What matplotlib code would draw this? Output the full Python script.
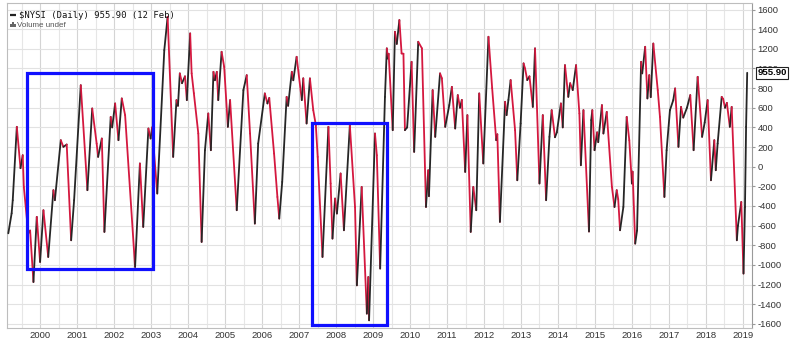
import numpy as np
import matplotlib
matplotlib.use("Agg")
import matplotlib.pyplot as plt
from matplotlib.collections import LineCollection
from matplotlib.patches import Rectangle

plt.rcParams["axes.unicode_minus"] = False

# %% data (turning points of $NYSI) -------------------------------------------
years = [
    1999.13, 1999.22, 1999.25, 1999.36, 1999.46, 1999.52, 1999.55, 1999.67, 1999.72, 1999.81,
    1999.90, 1999.99, 2000.08, 2000.21, 2000.35, 2000.39, 2000.55, 2000.62, 2000.71, 2000.83,
    2000.91, 2001.09, 2001.27, 2001.40, 2001.52, 2001.56, 2001.66, 2001.73, 2001.90, 2001.94,
    2002.02, 2002.11, 2002.20, 2002.29, 2002.56, 2002.69, 2002.78, 2002.92, 2002.98, 2003.02,
    2003.16, 2003.35, 2003.44, 2003.59, 2003.68, 2003.72, 2003.77, 2003.83, 2003.91, 2003.96,
    2004.05, 2004.09, 2004.15, 2004.27, 2004.36, 2004.45, 2004.54, 2004.61, 2004.68, 2004.72,
    2004.77, 2004.81, 2004.90, 2004.97, 2005.07, 2005.13, 2005.31, 2005.49, 2005.58, 2005.67,
    2005.80, 2005.89, 2006.07, 2006.14, 2006.19, 2006.32, 2006.41, 2006.46, 2006.54, 2006.66,
    2006.70, 2006.80, 2006.84, 2006.93, 2007.07, 2007.11, 2007.20, 2007.29, 2007.38, 2007.45,
    2007.50, 2007.63, 2007.79, 2007.85, 2007.90, 2007.97, 2008.02, 2008.12, 2008.21, 2008.37,
    2008.51, 2008.56, 2008.69, 2008.83, 2008.87, 2008.89, 2009.05, 2009.10, 2009.19, 2009.32,
    2009.37, 2009.40, 2009.42, 2009.53, 2009.59, 2009.64, 2009.71, 2009.77, 2009.82, 2009.86,
    2009.92, 2010.04, 2010.11, 2010.22, 2010.32, 2010.43, 2010.49, 2010.51, 2010.61, 2010.68,
    2010.81, 2010.86, 2010.95, 2011.06, 2011.13, 2011.22, 2011.29, 2011.35, 2011.40, 2011.49,
    2011.55, 2011.64, 2011.71, 2011.79, 2011.87, 2011.98, 2012.12, 2012.22, 2012.33, 2012.36,
    2012.43, 2012.57, 2012.61, 2012.66, 2012.72, 2012.84, 2012.90, 2012.99, 2013.07, 2013.11,
    2013.17, 2013.23, 2013.32, 2013.38, 2013.50, 2013.59, 2013.68, 2013.77, 2013.83, 2013.92,
    2013.97, 2014.08, 2014.13, 2014.19, 2014.28, 2014.33, 2014.40, 2014.49, 2014.58, 2014.62,
    2014.69, 2014.84, 2014.90, 2014.93, 2014.99, 2015.06, 2015.09, 2015.19, 2015.23, 2015.32,
    2015.46, 2015.53, 2015.59, 2015.63, 2015.68, 2015.77, 2015.86, 2015.93, 2016.00, 2016.02,
    2016.09, 2016.14, 2016.25, 2016.28, 2016.36, 2016.42, 2016.47, 2016.51, 2016.58, 2016.70,
    2016.76, 2016.88, 2016.94, 2017.03, 2017.12, 2017.17, 2017.26, 2017.33, 2017.39, 2017.49,
    2017.58, 2017.67, 2017.78, 2017.90, 2017.97, 2018.05, 2018.14, 2018.23, 2018.27, 2018.32,
    2018.43, 2018.47, 2018.52, 2018.57, 2018.65, 2018.70, 2018.84, 2018.87, 2018.96, 2019.02,
    2019.06, 2019.09, 2019.12,
]
nysi = [
    -678, -474, -341, 406, -15, 117, -206, -681, -650, -1174,
    -511, -970, -443, -919, -239, -341, 270, 202, 226, -749,
    -341, 830, -239, 593, 236, 100, 287, -664, 507, 400,
    644, 270, 695, 525, -1021, 33, -613, 389, 287, 400,
    -273, 1187, 1526, 100, 678, 620, 950, 850, 920, 678,
    1357, 950, 748, 338, -766, 168, 542, 168, 966, 880,
    966, 678, 1170, 1017, 406, 678, -443, 780, 932, 338,
    -579, 236, 746, 644, 700, 134, -308, -528, -155, 711,
    620, 966, 880, 1119, 678, 900, 440, 899, 576, 423,
    100, -919, 406, -171, -732, -324, -477, -69, -647, 423,
    -410, -1208, -206, -1496, -1123, -1564, 338, 117, -1037, 711,
    1205, 1100, 1150, 372, 1374, 1250, 1493, 1153, 1150, 372,
    400, 1068, 151, 1272, 1205, -410, -36, -300, 780, 304,
    950, 900, 406, 627, 813, 389, 729, 600, 680, -53,
    525, -664, -206, -443, 746, 33, 1323, 800, 270, 330,
    -562, 661, 525, 680, 882, 372, -138, 440, 1052, 1000,
    882, 920, 609, 1205, -171, 525, -341, 304, 576, 300,
    350, 644, 400, 1034, 711, 850, 780, 1034, 542, 15,
    576, -660, 474, 576, 168, 350, 250, 627, 338, 558,
    -206, -410, -239, -330, -647, -410, 507, 270, -171, -50,
    -783, -650, 1068, 950, 1221, 695, 932, 708, 1254, 780,
    507, -308, 168, 576, 678, 797, 202, 609, 500, 600,
    729, 168, 915, 304, 450, 678, -138, 270, -36, 236,
    711, 690, 600, 650, 406, 609, -749, -600, -359, -1088,
    -410, 406, 955.90,
]
last_value = 955.90

# highlighted boxes: (x0, x1, y0, y1)
box_2000 = (1999.63, 2003.05, -1037, 950)
box_2008 = (2007.34, 2009.37, -1615, 446)

year_ticks = list(range(2000, 2020))
value_ticks = list(range(-1600, 1601, 200))

# %% figure ------------------------------------------------------------------
fig = plt.figure(figsize=(8.0, 3.41), dpi=100)
ax = fig.add_axes([0.009, 0.037, 0.931, 0.954])

ax.set_xlim(1999.10, 2019.25)
ax.set_ylim(-1646, 1666)

# grid
ax.set_xticks(year_ticks)
ax.set_xticks([y + 0.5 for y in range(1999, 2019)], minor=True)
ax.set_yticks(value_ticks)
ax.grid(which="major", axis="x", color="#d4d4d4", lw=0.8)
ax.grid(which="minor", axis="x", color="#e6e6e6", lw=0.8)
ax.grid(which="major", axis="y", color="#e2e2e2", lw=0.8)
ax.set_axisbelow(True)

# line: black while rising, red while falling
pts = np.column_stack([years, nysi])
segs = np.stack([pts[:-1], pts[1:]], axis=1)
rising = np.diff(np.array(nysi)) >= 0
colors = np.where(rising, "#262626", "#d4183f")
lc = LineCollection(segs, colors=colors, linewidths=1.3, capstyle="round",
                    joinstyle="round", zorder=3)
ax.add_collection(lc)

# blue boxes
for x0, x1, y0, y1 in (box_2000, box_2008):
    ax.add_patch(Rectangle((x0, y0), x1 - x0, y1 - y0, fill=False,
                           edgecolor="#1010ff", lw=2.3, zorder=4))

# axes styling
ax.yaxis.tick_right()
ax.tick_params(axis="y", which="major", length=2.5, width=0.8, color="#999999",
               labelsize=6.8, labelcolor="#333333", pad=1.5)
ax.tick_params(axis="x", which="both", length=0, labelsize=6.8,
               labelcolor="#333333", pad=2)
for lab in ax.get_xticklabels() + ax.get_yticklabels():
    lab.set_fontfamily("Liberation Sans")
for s in ax.spines.values():
    s.set_color("#bdbdbd")
    s.set_linewidth(0.8)
ax.spines["right"].set_color("#9a9a9a")

# last value tag (sits on top of the 1000 label, as in the source chart)
ax.annotate(f"{last_value:.2f}", xy=(1.0, last_value),
            xycoords=("axes fraction", "data"), xytext=(4, 0),
            textcoords="offset points", ha="left", va="center",
            fontsize=6.8, fontweight="bold", family="Liberation Sans",
            bbox=dict(boxstyle="square,pad=0.15", fc="white", ec="#222222", lw=0.8),
            zorder=6, annotation_clip=False)

# legend-like header
ax.plot([0.004, 0.012], [0.962, 0.962], transform=ax.transAxes, color="#222222",
        lw=1.6, solid_capstyle="butt")
ax.text(0.016, 0.962, r"\$NYSI (Daily) 955.90 (12 Feb)", transform=ax.transAxes,
        ha="left", va="center", fontsize=6.4, family="DejaVu Sans Mono",
        color="#111111")
for i, h in enumerate((0.010, 0.016, 0.012)):
    ax.add_patch(Rectangle((0.004 + i * 0.0028, 0.925), 0.002, h,
                           transform=ax.transAxes, color="#666666", lw=0))
ax.text(0.0135, 0.932, "Volume undef", transform=ax.transAxes, ha="left",
        va="center", fontsize=5.8, family="Liberation Sans", color="#555555")

fig.savefig("out.png", dpi=100)
